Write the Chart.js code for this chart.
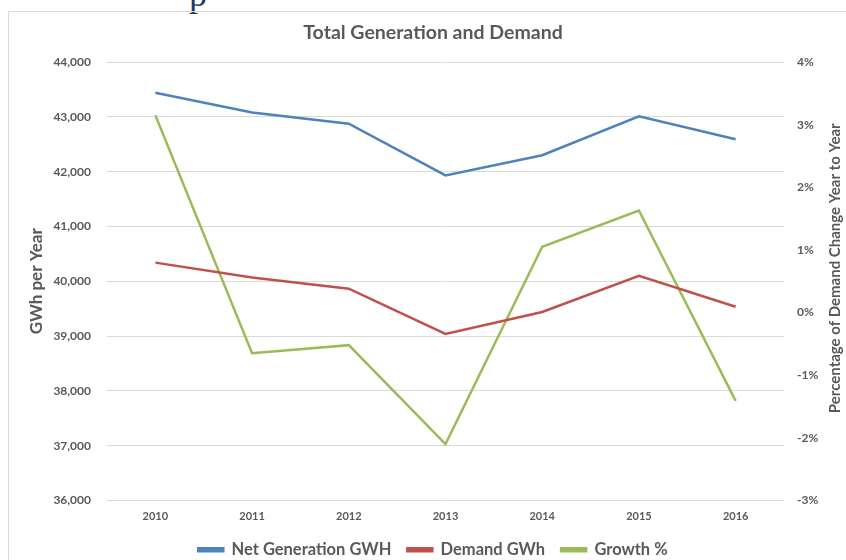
<!DOCTYPE html>
<html>
<head>
<meta charset="utf-8">
<script src="https://cdn.jsdelivr.net/npm/chart.js@4"></script>
<style>
    html, body { margin: 0; padding: 0; background: #fff; }
    #wrap { position: relative; width: 846px; height: 560px; overflow: hidden; }
    #frame { position: absolute; left: 8px; top: 11px; right: -2px; bottom: -2px; border: 1px solid #d9d9d9; }
    #cut { position: absolute; left: 189px; top: -24px; font: 36px/36px "Liberation Serif", serif; color: #1f3864; }
    canvas { position: absolute; left: 0; top: 0; }
</style>
</head>
<body>
<div id="wrap">
    <div id="cut">p</div>
    <div id="frame"></div>
    <canvas id="gen-demand-chart" width="846" height="568"></canvas>
</div>
<script>
// Chart data
const years = ['2010', '2011', '2012', '2013', '2014', '2015', '2016'];
const netGeneration = [43440, 43080, 42875, 41930, 42300, 43010, 42590];
const demand = [40340, 40070, 39865, 39040, 39440, 40100, 39535];
const growth = [3.15, -0.65, -0.52, -2.1, 1.05, 1.63, -1.41];

const gwhTicks = { min: 36000, max: 44000, step: 1000 };
const pctTicks = { min: -3, max: 4, step: 1 };

const textColor = '#595959';
const gridColor = '#d9d9d9';
const fontFamily = 'Lato, "Open Sans", sans-serif';

// Right axis title reads bottom-to-top like the left one, so draw it ourselves
const rightTitlePlugin = {
    id: 'rightTitle',
    afterDraw(chart) {
        const ctx = chart.ctx;
        const area = chart.chartArea;
        ctx.save();
        ctx.translate(chart.scales.y1.right - 11, (area.top + area.bottom) / 2 - 13);
        ctx.rotate(-Math.PI / 2);
        ctx.fillStyle = textColor;
        ctx.font = 'bold 15px ' + fontFamily;
        ctx.textAlign = 'center';
        ctx.textBaseline = 'middle';
        ctx.fillText('Percentage of Demand Change Year to Year', 0, 0);
        ctx.restore();
    }
};

const chartEl = document.getElementById('gen-demand-chart');
const genDemandChart = new Chart(chartEl, {
    type: 'line',
    data: {
        labels: years,
        datasets: [
            {
                label: 'Net Generation GWH',
                data: netGeneration,
                borderColor: '#4f81bd',
                backgroundColor: '#4f81bd',
                borderWidth: 2.5,
                pointRadius: 0,
                tension: 0,
                yAxisID: 'y'
            },
            {
                label: 'Demand GWh',
                data: demand,
                borderColor: '#c0504d',
                backgroundColor: '#c0504d',
                borderWidth: 2.5,
                pointRadius: 0,
                tension: 0,
                yAxisID: 'y'
            },
            {
                label: 'Growth %',
                data: growth,
                borderColor: '#9bbb59',
                backgroundColor: '#9bbb59',
                borderWidth: 2.5,
                pointRadius: 0,
                tension: 0,
                yAxisID: 'y1'
            }
        ]
    },
    options: {
        responsive: false,
        animation: false,
        layout: { padding: { left: 20, right: 0, top: 0, bottom: 0 } },
        scales: {
            x: {
                offset: true,
                grid: { display: false, drawTicks: false },
                border: { display: false },
                ticks: {
                    color: textColor,
                    padding: 9,
                    font: { family: fontFamily, size: 11, weight: 'bold' }
                },
                afterFit: function(scale) { scale.height = 25; }
            },
            y: {
                position: 'left',
                min: gwhTicks.min,
                max: gwhTicks.max,
                grid: { color: gridColor, drawTicks: false },
                border: { display: false },
                ticks: {
                    stepSize: gwhTicks.step,
                    color: textColor,
                    padding: 16,
                    font: { family: fontFamily, size: 12, weight: 'bold' },
                    callback: function(value) { return value.toLocaleString('en-US'); }
                },
                title: {
                    display: true,
                    text: 'GWh per Year',
                    color: textColor,
                    padding: { top: 6, bottom: 0 },
                    font: { family: fontFamily, size: 17, weight: 'bold' }
                },
                afterFit: function(scale) { scale.width = 87; }
            },
            y1: {
                position: 'right',
                min: pctTicks.min,
                max: pctTicks.max,
                grid: { display: false, drawTicks: false },
                border: { display: false },
                ticks: {
                    stepSize: pctTicks.step,
                    color: textColor,
                    padding: 13,
                    font: { family: fontFamily, size: 12, weight: 'bold' },
                    callback: function(value) { return value + '%'; }
                },
                afterFit: function(scale) { scale.width = 62; }
            }
        },
        plugins: {
            legend: {
                position: 'bottom',
                labels: {
                    color: textColor,
                    boxWidth: 25,
                    boxHeight: 3,
                    padding: 16,
                    font: { family: fontFamily, size: 16.5, weight: 'bold' }
                }
            },
            title: {
                display: true,
                text: 'Total Generation and Demand',
                color: textColor,
                padding: { top: 21, bottom: 17.6 },
                font: { family: fontFamily, size: 19.5, weight: 'bold' }
            },
            tooltip: { enabled: false }
        }
    },
    plugins: [rightTitlePlugin]
});
</script>
</body>
</html>
